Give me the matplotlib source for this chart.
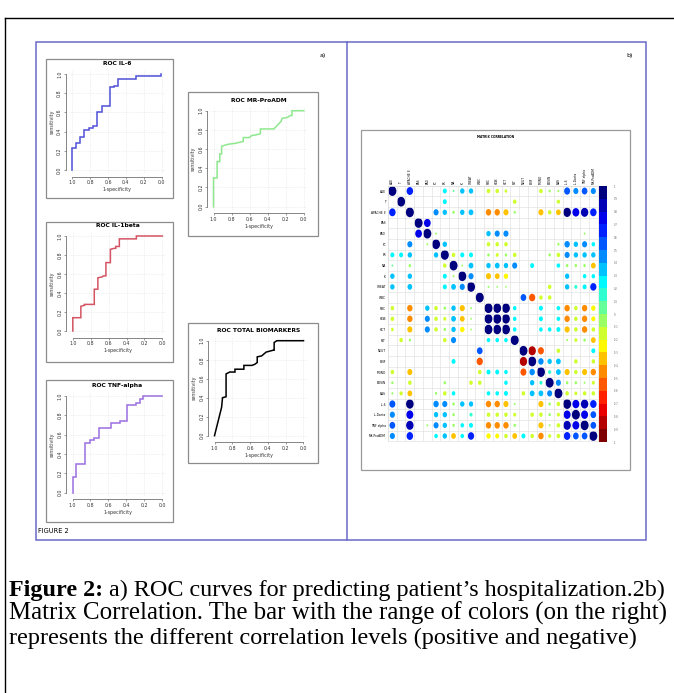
import numpy as np
import matplotlib
matplotlib.use("Agg")
import matplotlib.pyplot as plt
from matplotlib.colors import LinearSegmentedColormap, Normalize
from matplotlib.patches import Rectangle, Ellipse
from matplotlib.cm import ScalarMappable

W, H = 674, 693

# ROC curves, vertices as (specificity, sensitivity)
il6_spec = [1.0, 1.0, 0.96, 0.96, 0.91, 0.91, 0.87, 0.87, 0.81, 0.81, 0.77, 0.77, 0.72, 0.72,
            0.67, 0.67, 0.58, 0.58, 0.53, 0.53, 0.49, 0.49, 0.29, 0.29, 0.01, 0.01]
il6_sens = [0.0, 0.23, 0.23, 0.28, 0.28, 0.34, 0.34, 0.42, 0.42, 0.44, 0.44, 0.46, 0.46, 0.60,
            0.60, 0.67, 0.67, 0.86, 0.86, 0.88, 0.88, 0.95, 0.95, 0.98, 0.98, 1.0]

mr_spec = [1.0, 1.0, 0.96, 0.96, 0.93, 0.93, 0.91, 0.91, 0.84, 0.76, 0.67, 0.67, 0.60, 0.58,
           0.52, 0.48, 0.48, 0.33, 0.29, 0.25, 0.24, 0.18, 0.15, 0.13, 0.13, 0.0]
mr_sens = [0.0, 0.30, 0.30, 0.47, 0.47, 0.55, 0.55, 0.63, 0.65, 0.66, 0.68, 0.72, 0.72, 0.74,
           0.75, 0.76, 0.81, 0.81, 0.85, 0.89, 0.92, 0.93, 0.95, 0.95, 1.0, 1.0]

il1b_spec = [1.0, 1.0, 0.91, 0.91, 0.87, 0.87, 0.76, 0.76, 0.72, 0.72, 0.67, 0.66, 0.63, 0.63,
             0.58, 0.58, 0.54, 0.52, 0.52, 0.48, 0.48, 0.29, 0.29, 0.0]
il1b_sens = [0.0, 0.14, 0.14, 0.26, 0.27, 0.28, 0.28, 0.44, 0.44, 0.56, 0.57, 0.58, 0.58, 0.72,
             0.72, 0.86, 0.87, 0.87, 0.89, 0.89, 0.97, 0.97, 1.0, 1.0]

total_spec = [1.0, 0.92, 0.91, 0.87, 0.87, 0.83, 0.77, 0.77, 0.67, 0.67, 0.58, 0.55, 0.52, 0.52,
              0.47, 0.42, 0.34, 0.33, 0.33, 0.30, 0.0]
total_sens = [0.0, 0.30, 0.40, 0.41, 0.65, 0.67, 0.67, 0.70, 0.70, 0.74, 0.74, 0.75, 0.77, 0.83,
              0.84, 0.88, 0.90, 0.90, 0.98, 1.0, 1.0]

tnf_spec = [1.0, 1.0, 0.96, 0.96, 0.86, 0.86, 0.81, 0.81, 0.76, 0.76, 0.71, 0.71, 0.57, 0.57,
            0.47, 0.47, 0.39, 0.39, 0.29, 0.29, 0.25, 0.25, 0.21, 0.21, 0.0]
tnf_sens = [0.0, 0.16, 0.16, 0.30, 0.30, 0.51, 0.51, 0.55, 0.55, 0.57, 0.57, 0.67, 0.67, 0.72,
            0.72, 0.74, 0.74, 0.91, 0.91, 0.93, 0.93, 0.97, 0.97, 1.0, 1.0]

# correlation matrix
variables = ["AGE", "T", "APACHE II", "PAS", "PAD", "FC", "FR", "NA", "K", "CREAT", "WBC",
             "RBC", "HGB", "HCT", "PLT", "NEUT", "LINF", "MONO", "EOSIN", "BAS", "IL-6",
             "IL-1beta", "TNF alpha", "MR-ProADM"]

# upper triangle (row, col, r); blank cells are left out
corr_upper = [
    (0, 2, 0.65), (0, 6, 0.25), (0, 7, 0.05), (0, 8, 0.3), (0, 9, 0.3), (0, 11, -0.2),
    (0, 12, -0.2), (0, 13, -0.12), (0, 17, -0.2), (0, 18, -0.08), (0, 19, -0.06),
    (0, 20, 0.55), (0, 21, 0.4), (0, 22, 0.5), (0, 23, 0.4),
    (1, 6, 0.25), (1, 14, -0.2), (1, 19, -0.18),
    (2, 5, 0.4), (2, 6, 0.3), (2, 7, -0.1), (2, 8, 0.3), (2, 9, 0.35), (2, 11, -0.45),
    (2, 12, -0.45), (2, 13, -0.4), (2, 14, -0.08), (2, 17, -0.4), (2, 18, -0.2),
    (2, 19, -0.35), (2, 20, 0.9), (2, 21, 0.75), (2, 22, 0.85), (2, 23, 0.65),
    (3, 4, 0.7),
    (4, 5, -0.05), (4, 11, 0.3), (4, 12, 0.4), (4, 13, 0.4), (4, 22, -0.05),
    (5, 6, 0.3), (5, 11, -0.2), (5, 12, -0.2), (5, 13, -0.2), (5, 19, -0.08), (5, 20, 0.45),
    (5, 21, 0.3), (5, 22, 0.4), (5, 23, 0.2),
    (6, 7, -0.2), (6, 8, 0.25), (6, 9, 0.25), (6, 11, -0.1), (6, 12, -0.15), (6, 13, -0.1),
    (6, 14, -0.2), (6, 18, -0.1), (6, 19, -0.2), (6, 20, 0.4), (6, 21, 0.3), (6, 22, 0.3),
    (6, 23, 0.3),
    (7, 8, -0.05), (7, 9, 0.35), (7, 11, 0.3), (7, 12, 0.35), (7, 13, 0.3), (7, 14, 0.4),
    (7, 16, 0.25), (7, 19, 0.2), (7, 20, -0.1), (7, 21, -0.1), (7, 22, -0.1), (7, 23, -0.35),
    (8, 9, 0.4), (8, 11, -0.4), (8, 12, -0.35), (8, 13, -0.3), (8, 20, 0.3), (8, 22, 0.2),
    (8, 23, 0.2),
    (9, 11, -0.05), (9, 12, -0.04), (9, 13, -0.04), (9, 18, -0.2), (9, 20, 0.3), (9, 21, 0.15),
    (9, 22, 0.25), (9, 23, 0.6),
    (10, 15, 0.5), (10, 16, -0.6), (10, 17, -0.2), (10, 18, -0.2),
    (11, 12, 0.95), (11, 13, 0.95), (11, 14, 0.2), (11, 17, 0.25), (11, 19, 0.2),
    (11, 20, -0.45), (11, 21, -0.2), (11, 22, -0.45), (11, 23, -0.3),
    (12, 13, 0.95), (12, 14, 0.2), (12, 17, 0.25), (12, 19, 0.2), (12, 20, -0.45),
    (12, 21, -0.2), (12, 22, -0.45), (12, 23, -0.25),
    (13, 14, 0.2), (13, 17, 0.2), (13, 18, 0.2), (13, 19, 0.25), (13, 20, -0.4),
    (13, 21, -0.2), (13, 22, -0.45), (13, 23, -0.2),
    (14, 20, -0.05), (14, 21, -0.15), (14, 22, -0.1), (14, 23, -0.35),
    (15, 16, -0.85), (15, 17, -0.55), (15, 19, -0.2), (15, 23, 0.25),
    (16, 17, 0.45), (16, 18, 0.3), (16, 19, 0.35), (16, 21, -0.2), (16, 23, -0.2),
    (17, 18, 0.15), (17, 19, 0.35), (17, 20, -0.4), (17, 21, -0.2), (17, 22, -0.4),
    (17, 23, -0.45),
    (18, 19, 0.4), (18, 20, -0.1), (18, 21, -0.1), (18, 22, -0.05), (18, 23, -0.15),
    (19, 20, -0.2), (19, 21, -0.15), (19, 22, -0.2), (19, 23, -0.2),
    (20, 21, 0.75), (20, 22, 0.85), (20, 23, 0.65),
    (21, 22, 0.75), (21, 23, 0.5),
    (22, 23, 0.5),
]

caption_lines = [
    "a) ROC curves for predicting patient\u2019s hospitalization.2b)",
    "Matrix Correlation. The bar with the range of colors (on the right)",
    "represents the different correlation levels (positive and negative)",
]

n = len(variables)
corr = np.full((n, n), np.nan)
np.fill_diagonal(corr, 1.0)
for i, j, r in corr_upper:
    corr[i, j] = r
    corr[j, i] = r

palette = ["#7F0000", "red", "#FF7F00", "yellow", "#7FFF7F", "cyan", "#007FFF", "blue", "#00007F"]
cmap = LinearSegmentedColormap.from_list("corrcol", palette, N=20)
norm = Normalize(-1, 1)

fig = plt.figure(figsize=(W / 100, H / 100), dpi=100)
bg = fig.add_axes([0, 0, 1, 1])
bg.set_xlim(0, W)
bg.set_ylim(H, 0)
bg.axis("off")


def px_axes(left, top, right, bottom):
    return fig.add_axes([left / W, 1 - bottom / H, (right - left) / W, (bottom - top) / H])


# page box and figure frame
bg.plot([5, 5], [18, H], color="black", lw=1)
bg.plot([5, W], [18, 18], color="black", lw=1)
blue = "#6a6ac8"
bg.add_patch(Rectangle((36, 42), 610, 498, fill=False, ec=blue, lw=1.1))
bg.plot([347, 347], [42, 540], color=blue, lw=1.1)
bg.text(323, 56, "a)", fontsize=4.5, ha="center", va="center")
bg.text(630, 56, "b)", fontsize=4.5, ha="center", va="center")
bg.text(38, 531, "FIGURE 2", fontsize=4.8, ha="left", va="center")


def roc_panel(spec, sens, color, title, frame, x_one, x_zero, y_zero, y_one):
    fx0, fy0, fx1, fy1 = frame
    bg.add_patch(Rectangle((fx0, fy0), fx1 - fx0, fy1 - fy0, fill=False, ec="#8c8c8c", lw=0.9))
    ux = x_zero - x_one
    uy = y_zero - y_one
    ax = px_axes(x_one - 0.04 * ux, y_one - 0.04 * uy, x_zero + 0.04 * ux, y_zero + 0.04 * uy)
    ax.set_facecolor("none")
    ax.set_xlim(1.04, -0.04)
    ax.set_ylim(-0.04, 1.04)
    ticks = [0.0, 0.2, 0.4, 0.6, 0.8, 1.0]
    for t in ticks:
        ax.axhline(t, color="#d4d4d4", lw=0.4, ls=(0, (1, 2)), zorder=0)
        ax.axvline(t, color="#d4d4d4", lw=0.4, ls=(0, (1, 2)), zorder=0)
    ax.plot(spec, sens, color=color, lw=1.1, solid_joinstyle="miter")
    for s in ["top", "right"]:
        ax.spines[s].set_visible(False)
    for s in ["left", "bottom"]:
        ax.spines[s].set_bounds(0, 1)
        ax.spines[s].set_linewidth(0.5)
        ax.spines[s].set_color("#555555")
        ax.spines[s].set_position(("outward", 2))
    ax.set_xticks(ticks)
    ax.set_yticks(ticks)
    ax.set_xticklabels(["%.1f" % t for t in ticks])
    ax.set_yticklabels(["%.1f" % t for t in ticks], rotation=90, va="center")
    ax.tick_params(length=1.5, width=0.4, labelsize=3.4, pad=1.2, colors="#555555",
                   labelcolor="#333333")
    ax.set_xlabel("1-specificity", fontsize=3.4, labelpad=1.5, color="#333333")
    ax.set_ylabel("sensitivity", fontsize=3.4, labelpad=2, color="#333333")
    ax.set_title(title, fontsize=4.3, fontweight="bold", pad=3.5)
    return ax


roc_panel(il6_spec, il6_sens, "#5050d8", "ROC IL-6", (46, 59, 173, 198), 72.3, 161.7, 170, 74)
roc_panel(mr_spec, mr_sens, "#8ee88e", "ROC MR-ProADM", (188, 92, 318, 236), 213.5, 303.7, 206.7, 110.7)
roc_panel(il1b_spec, il1b_sens, "#d45463", "ROC IL-1beta", (46, 222, 173, 362), 72.8, 162.3, 331, 236)
roc_panel(total_spec, total_sens, "black", "ROC TOTAL BIOMARKERS", (188, 323, 318, 463), 214.5, 303.5, 435.7, 340.7)
roc_panel(tnf_spec, tnf_sens, "#9b6fe0", "ROC TNF-alpha", (46, 380, 173, 522), 72.5, 162.3, 492.7, 396)

# correlation matrix panel
bg.add_patch(Rectangle((361, 130), 269, 340, fill=False, ec="#9a9a9a", lw=0.9))
bg.text(496, 137, "MATRIX CORRELATION", fontsize=2.2, fontweight="bold", ha="center", va="center")

axm = px_axes(388, 185.7, 597.7, 441.3)
axm.set_xlim(-0.5, n - 0.5)
axm.set_ylim(n - 0.5, -0.5)
axm.set_xticks(np.arange(n))
axm.set_yticks(np.arange(n))
axm.set_xticklabels(variables, rotation=90, fontsize=2.2)
axm.set_yticklabels(variables, fontsize=2.2)
axm.xaxis.tick_top()
axm.tick_params(length=0, pad=1.5)
axm.set_xticks(np.arange(-0.5, n), minor=True)
axm.set_yticks(np.arange(-0.5, n), minor=True)
axm.tick_params(which="minor", length=0)
axm.grid(which="minor", color="#dcdcdc", lw=0.4)
for s in axm.spines.values():
    s.set_color("#dcdcdc")
    s.set_linewidth(0.4)
for i in range(n):
    for j in range(n):
        r = corr[i, j]
        if np.isnan(r):
            continue
        d = 0.92 * np.sqrt(abs(r))
        axm.add_patch(Ellipse((j, i), d, d, facecolor=cmap(norm(r)), edgecolor="none"))

cax = px_axes(599, 186, 607, 442)
cb = fig.colorbar(ScalarMappable(norm=norm, cmap=cmap), cax=cax)
cb.outline.set_visible(False)
levels = np.round(np.linspace(-1, 1, 21), 1)
cb.set_ticks(levels)
cb.set_ticklabels(["%g" % v for v in levels])
cax.tick_params(length=0, labelsize=1.8, pad=5, labelcolor="#666666")

# caption: each line sized so it ends where it does in the figure
serif = "Liberation Serif"
renderer = fig.canvas.get_renderer()


def line_width(parts, size):
    total = 0
    for txt, weight in parts:
        t = bg.text(0, 0, txt, fontsize=size, family=serif, fontweight=weight)
        total += t.get_window_extent(renderer).width
        t.remove()
    return total


line_parts = [
    [("Figure 2:", "bold"), (" " + caption_lines[0], "normal")],
    [(caption_lines[1], "normal")],
    [(caption_lines[2], "normal")],
]
line_ends = [667, 667, 634]
baselines = [596, 620, 644]
for parts, x_end, yb in zip(line_parts, line_ends, baselines):
    size = 10 * (x_end - 9) / line_width(parts, 10)
    x = 9
    for txt, weight in parts:
        t = bg.text(x, yb, txt, fontsize=size, family=serif, fontweight=weight, va="baseline")
        x += t.get_window_extent(renderer).width

fig.savefig("out.png", dpi=100)
